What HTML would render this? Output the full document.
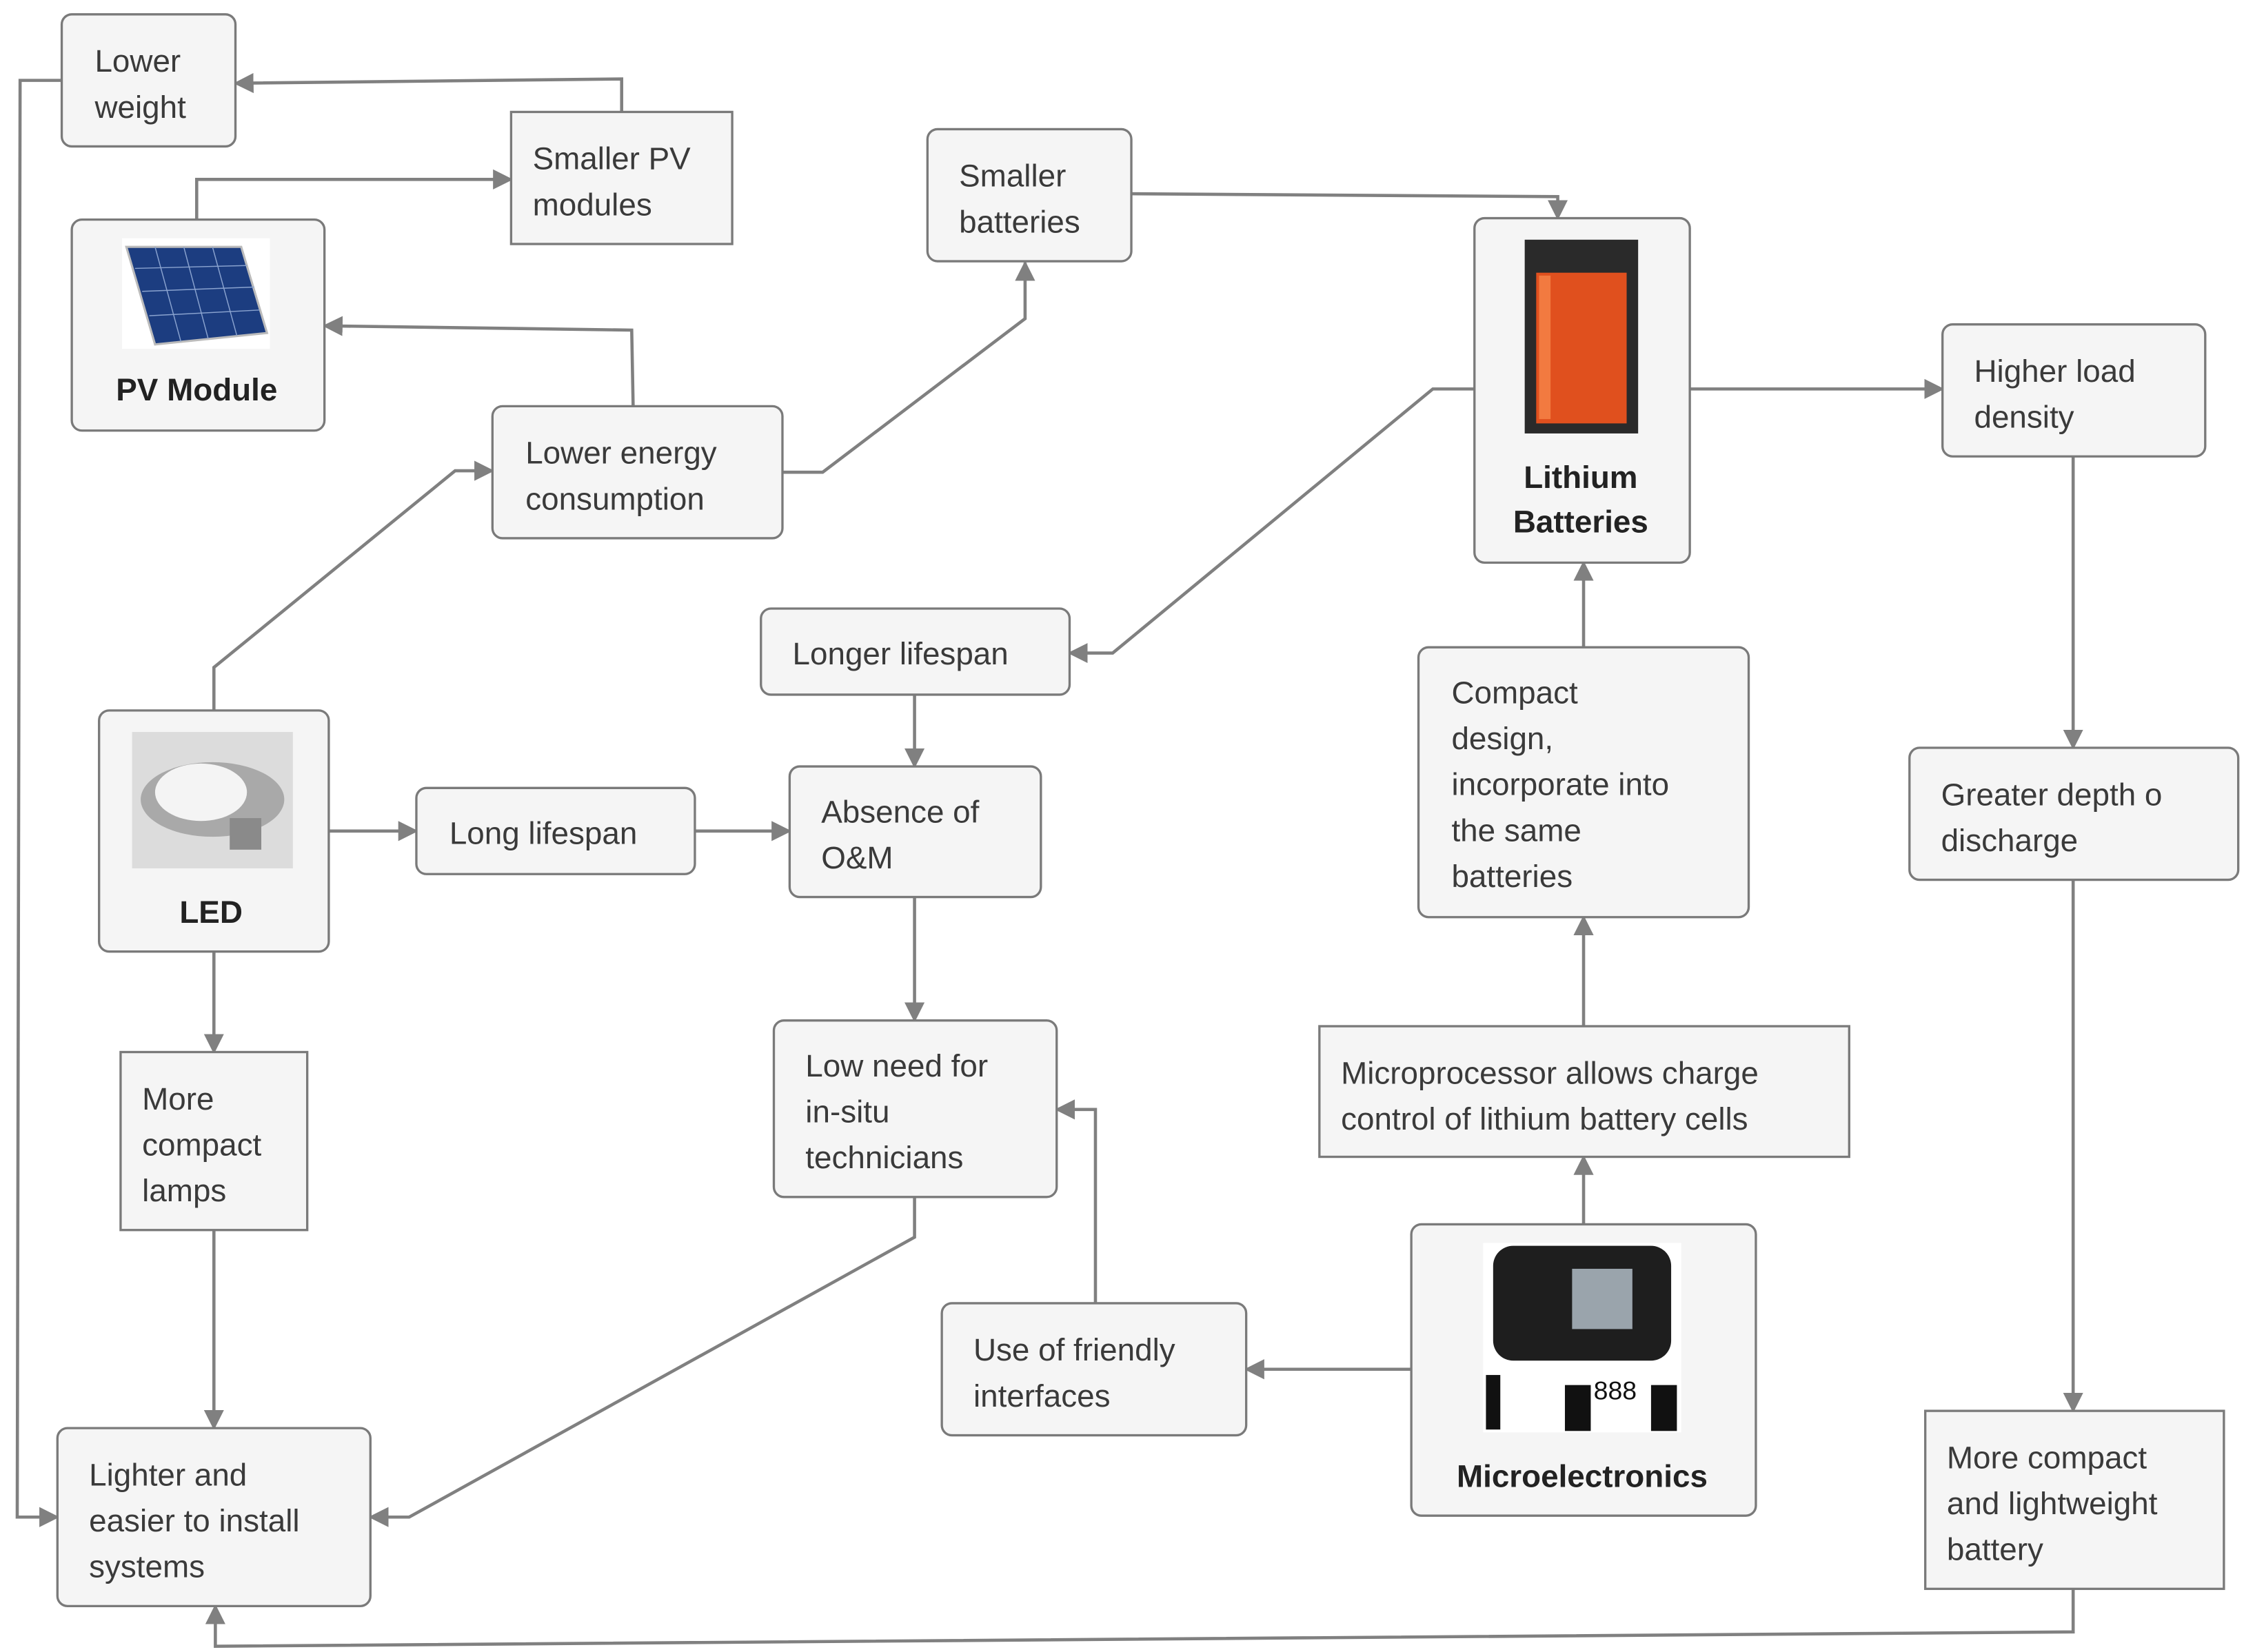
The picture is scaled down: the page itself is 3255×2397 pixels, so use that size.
<!DOCTYPE html>
<html><head><meta charset="utf-8"><style>
html,body{margin:0;padding:0;background:#fff}
svg{display:block}
text{font-family:"Liberation Sans",sans-serif;font-size:22px;fill:#3a3a3a}
.b{font-weight:bold;fill:#222}
.bx{fill:#f5f5f5;stroke:#7a7a7a;stroke-width:1.6}
.ln{fill:none;stroke:#808080;stroke-width:2.2}
</style></head><body>
<svg width="3255" height="2397" viewBox="0 0 1563 1151" xmlns="http://www.w3.org/2000/svg">
<defs><marker id="a" viewBox="0 0 10 10" refX="10" refY="5" markerWidth="6" markerHeight="6" orient="auto" markerUnits="userSpaceOnUse" ><path d="M0,0L10,5L0,10z" fill="#808080"/></marker>
<marker id="m" viewBox="0 0 10 10" refX="9" refY="5" markerWidth="14" markerHeight="14" orient="auto" markerUnits="userSpaceOnUse"><path d="M0,0L10,5L0,10z" fill="#808080"/></marker></defs>
<rect width="1563" height="1151" fill="#fff"/>
<!-- connectors -->
<g class="ln" marker-end="url(#m)">
<polyline points="433,78 433,55 164,58"/>
<polyline points="137,153 137,125 356,125"/>
<polyline points="441,283 440,230 226,227"/>
<polyline points="545,329 573,329 714,222 714,183"/>
<polyline points="788,135 1085,137 1085,152"/>
<polyline points="1027,271 998,271 775,455 745,455"/>
<polyline points="1177,271 1353,271"/>
<polyline points="1103,451 1103,392"/>
<polyline points="1444,318 1444,521"/>
<polyline points="1444,613 1444,983"/>
<polyline points="1444,1107 1444,1137 150,1147 150,1119"/>
<polyline points="637,484 637,534"/>
<polyline points="149,495 149,465 317,328 343,328"/>
<polyline points="229,579 290,579"/>
<polyline points="484,579 550,579"/>
<polyline points="637,625 637,711"/>
<polyline points="149,663 149,733"/>
<polyline points="149,857 149,995"/>
<polyline points="637,834 637,862 285,1057 258,1057"/>
<polyline points="763,908 763,773 736,773"/>
<polyline points="983,954 868,954"/>
<polyline points="1103,853 1103,806"/>
<polyline points="1103,715 1103,639"/>
<polyline points="43,56 14,56 12,1057 40,1057"/>
</g>
<!-- boxes -->
<rect class="bx" x="43" y="10" width="121" height="92" rx="7"/>
<text x="66" y="50">Lower</text><text x="66" y="82">weight</text>
<rect class="bx" x="356" y="78" width="154" height="92"/>
<text x="371" y="118">Smaller PV</text><text x="371" y="150">modules</text>
<rect class="bx" x="646" y="90" width="142" height="92" rx="7"/>
<text x="668" y="130">Smaller</text><text x="668" y="162">batteries</text>
<rect class="bx" x="50" y="153" width="176" height="147" rx="7"/>
<rect x="85" y="166" width="103" height="77" fill="#fff"/>
<polygon points="88,172 168,172 186,232 108,240" fill="#1c3d80" stroke="#bbb" stroke-width="1.5"/>
<g stroke="#8aa3cf" stroke-width="0.7"><line x1="94" y1="187" x2="172" y2="185"/><line x1="99" y1="203" x2="177" y2="200"/><line x1="104" y1="220" x2="181" y2="216"/><line x1="108" y1="172" x2="126" y2="238"/><line x1="128" y1="172" x2="145" y2="236"/><line x1="148" y1="172" x2="165" y2="234"/></g>
<text class="b" x="137" y="279" text-anchor="middle">PV Module</text>
<rect class="bx" x="343" y="283" width="202" height="92" rx="7"/>
<text x="366" y="323">Lower energy</text><text x="366" y="355">consumption</text>
<rect class="bx" x="1027" y="152" width="150" height="240" rx="7"/>
<rect x="1062" y="167" width="79" height="135" fill="#2a2a2a"/>
<rect x="1070" y="190" width="63" height="105" fill="#e0501e"/>
<rect x="1072" y="192" width="8" height="100" fill="#f27a40"/>
<text class="b" x="1101" y="340" text-anchor="middle">Lithium</text><text class="b" x="1101" y="371" text-anchor="middle">Batteries</text>
<rect class="bx" x="1353" y="226" width="183" height="92" rx="7"/>
<text x="1375" y="266">Higher load</text><text x="1375" y="298">density</text>
<rect class="bx" x="530" y="424" width="215" height="60" rx="7"/>
<text x="552" y="463">Longer lifespan</text>
<rect class="bx" x="988" y="451" width="230" height="188" rx="7"/>
<text x="1011" y="490">Compact</text><text x="1011" y="522">design,</text><text x="1011" y="554">incorporate into</text><text x="1011" y="586">the same</text><text x="1011" y="618">batteries</text>
<rect class="bx" x="69" y="495" width="160" height="168" rx="7"/>
<rect x="92" y="510" width="112" height="95" fill="#dcdcdc"/>
<ellipse cx="148" cy="557" rx="50" ry="26" fill="#a9a9a9"/>
<ellipse cx="140" cy="552" rx="32" ry="20" fill="#f4f4f4"/>
<rect x="160" y="570" width="22" height="22" fill="#8a8a8a"/>
<text class="b" x="147" y="643" text-anchor="middle">LED</text>
<rect class="bx" x="290" y="549" width="194" height="60" rx="7"/>
<text x="313" y="588">Long lifespan</text>
<rect class="bx" x="550" y="534" width="175" height="91" rx="7"/>
<text x="572" y="573">Absence of</text><text x="572" y="605">O&amp;M</text>
<rect class="bx" x="1330" y="521" width="229" height="92" rx="7"/>
<text x="1352" y="561">Greater depth o</text><text x="1352" y="593">discharge</text>
<rect class="bx" x="919" y="715" width="369" height="91"/>
<text x="934" y="755">Microprocessor allows charge</text><text x="934" y="787">control of lithium battery cells</text>
<rect class="bx" x="84" y="733" width="130" height="124"/>
<text x="99" y="773">More</text><text x="99" y="805">compact</text><text x="99" y="837">lamps</text>
<rect class="bx" x="539" y="711" width="197" height="123" rx="7"/>
<text x="561" y="750">Low need for</text><text x="561" y="782">in-situ</text><text x="561" y="814">technicians</text>
<rect class="bx" x="656" y="908" width="212" height="92" rx="7"/>
<text x="678" y="948">Use of friendly</text><text x="678" y="980">interfaces</text>
<rect class="bx" x="983" y="853" width="240" height="203" rx="7"/>
<rect x="1033" y="866" width="138" height="132" fill="#fff"/>
<rect x="1040" y="868" width="124" height="80" rx="14" fill="#1e1e1e"/>
<rect x="1095" y="884" width="42" height="42" fill="#9aa4ac"/>
<g fill="#111"><rect x="1035" y="958" width="10" height="38"/><rect x="1090" y="965" width="18" height="32"/><rect x="1150" y="965" width="18" height="32"/><text x="1110" y="975" style="font-size:18px;fill:#111">888</text></g>
<text class="b" x="1102" y="1036" text-anchor="middle">Microelectronics</text>
<rect class="bx" x="1341" y="983" width="208" height="124"/>
<text x="1356" y="1023">More compact</text><text x="1356" y="1055">and lightweight</text><text x="1356" y="1087">battery</text>
<rect class="bx" x="40" y="995" width="218" height="124" rx="7"/>
<text x="62" y="1035">Lighter and</text><text x="62" y="1067">easier to install</text><text x="62" y="1099">systems</text>
</svg>
</body></html>
